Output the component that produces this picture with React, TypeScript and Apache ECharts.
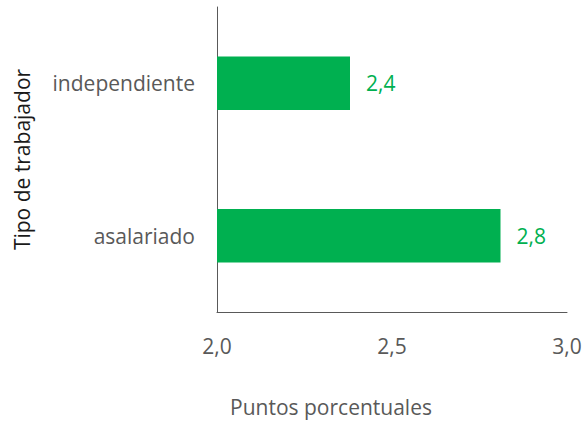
import React, { useEffect, useRef } from "react";
import * as echarts from "echarts";

const categories = ["asalariado", "independiente"];
const values = [2.81, 2.38];
const valueLabels = ["2,8", "2,4"];
const xMin = 2.0;
const xMax = 3.0;
const xInterval = 0.5;

export default function App() {
  const ref = useRef<HTMLDivElement>(null);
  useEffect(() => {
    if (!ref.current) return;
    const chart = echarts.init(ref.current, undefined, { renderer: "svg" });
    const font = "'Open Sans', sans-serif";
    chart.setOption({
      animation: false,
      grid: { left: 217, right: 20, top: 7, bottom: 106, containLabel: false },
      xAxis: {
        type: "value",
        min: xMin,
        max: xMax,
        interval: xInterval,
        name: "Puntos porcentuales",
        nameLocation: "middle",
        nameGap: 84,
        nameTextStyle: { color: "#595959", fontSize: 21, fontFamily: font, padding: [0, 122, 0, 0] },
        axisLine: { show: true, lineStyle: { color: "#595959", width: 1 } },
        axisTick: { show: false },
        splitLine: { show: false },
        axisLabel: {
          color: "#595959",
          fontSize: 21,
          fontFamily: font,
          margin: 23,
          formatter: (v: number) => v.toFixed(1).replace(".", ","),
        },
      },
      yAxis: {
        type: "category",
        data: categories,
        name: "Tipo de trabajador",
        nameLocation: "middle",
        nameGap: 185,
        nameTextStyle: { color: "#1a1a1a", fontSize: 21, fontFamily: font },
        axisLine: { show: true, lineStyle: { color: "#595959", width: 1 } },
        axisTick: { show: false },
        axisLabel: { color: "#595959", fontSize: 21, fontFamily: font, margin: 22 },
      },
      series: [
        {
          type: "bar",
          data: values,
          barWidth: "35%",
          itemStyle: { color: "#00B050" },
          label: {
            show: true,
            position: "right",
            distance: 16,
            color: "#00B050",
            fontSize: 21,
            fontFamily: font,
            formatter: (p: any) => valueLabels[p.dataIndex],
          },
        },
      ],
    });
    return () => chart.dispose();
  }, []);
  return (
    <div
      ref={ref}
      style={{ position: "fixed", left: 0, top: 0, width: 587, height: 422, background: "#fff" }}
    />
  );
}
